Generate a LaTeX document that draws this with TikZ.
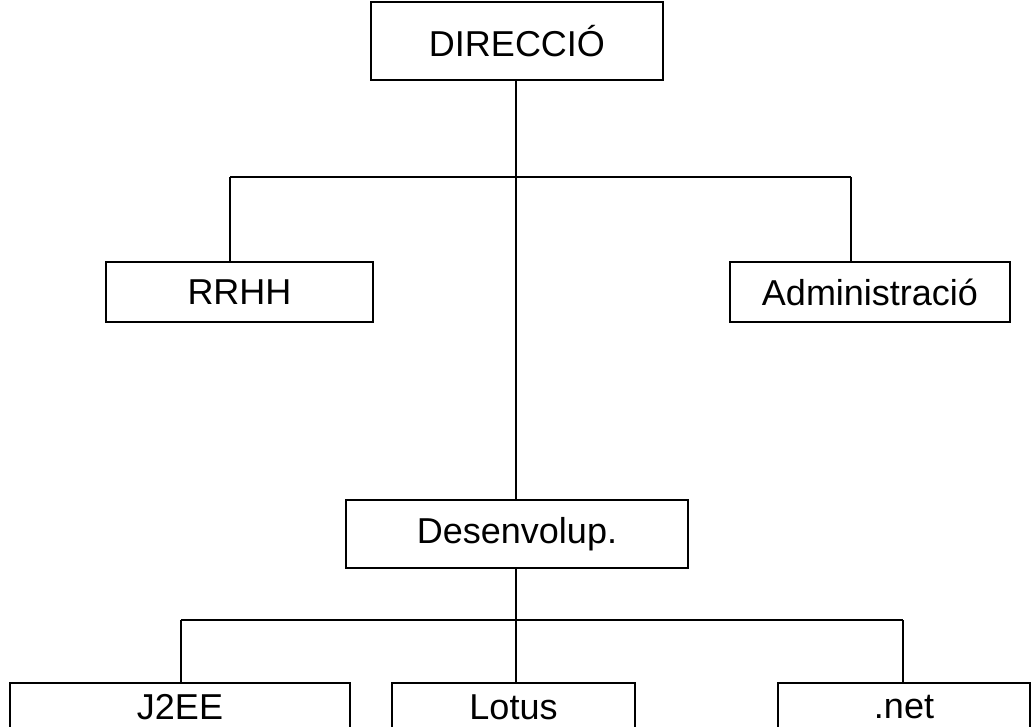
\documentclass[tikz,border=0pt]{standalone}
\usepackage{fontspec}
\setmainfont{Liberation Sans}
\begin{document}
\begin{tikzpicture}[x=1pt,y=-1pt,
  box/.style={draw,line width=2pt,inner sep=0pt,font=\fontsize{36}{42}\selectfont},
  link/.style={line width=2pt}]
\useasboundingbox (0,0) rectangle (1034,727);
\clip (0,0) rectangle (1034,727);
\node[box,minimum width=292,minimum height=78] (dir) at (517,41) {DIRECCIÓ};
\node[box,minimum width=267,minimum height=60] (rrhh) at (239.5,292) {RRHH};
\node[box,minimum width=280,minimum height=60] (adm) at (870,292) {Administració};
\node[box,minimum width=342,minimum height=68] (des) at (517,534) {Desenvolup.};
\node[box,minimum width=340,minimum height=48] (j2ee) at (180,707) {J2EE};
\node[box,minimum width=243,minimum height=48] (lotus) at (513.5,707) {Lotus};
\node[box,minimum width=252,minimum height=48] (net) at (904,707) {.net};
\coordinate (b1l) at (230,177);
\coordinate (b1r) at (851,177);
\coordinate (b2l) at (181,620);
\coordinate (b2r) at (903,620);
\draw[link] (dir.south -| 516,0) -- (des.north -| 516,0);
\draw[link] (b1l) -- (b1r);
\draw[link] (b1l) -- (b1l |- rrhh.north);
\draw[link] (b1r) -- (b1r |- adm.north);
\draw[link] (b2l) -- (b2r);
\draw[link] (des.south -| 516,0) -- (lotus.north -| 516,0);
\draw[link] (b2l) -- (b2l |- j2ee.north);
\draw[link] (b2r) -- (b2r |- net.north);
\end{tikzpicture}
\end{document}
